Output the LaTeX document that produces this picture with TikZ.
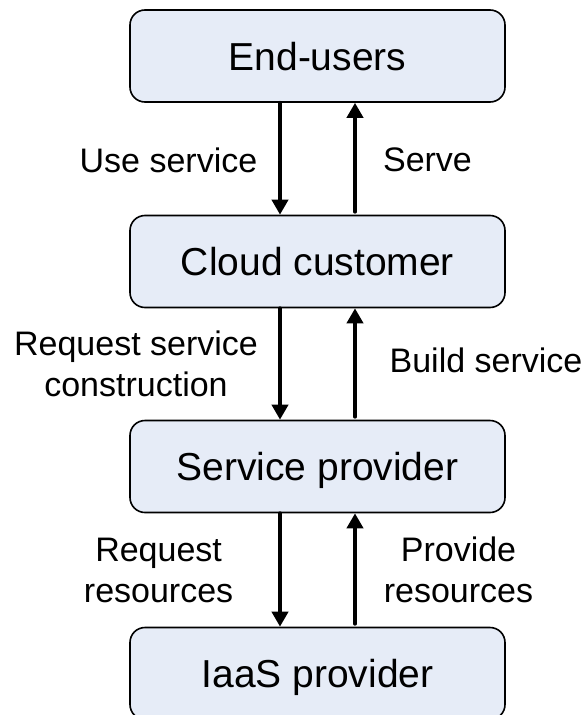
\documentclass[tikz,border=0pt]{standalone}
\usepackage{fontspec}
\setmainfont{Liberation Sans}
\usepackage{tikz}
\usetikzlibrary{arrows.meta}

\definecolor{cajaazul}{RGB}{230,236,247}

\begin{document}
\begin{tikzpicture}[x=1pt,y=-1pt,
		caja/.style={draw=black,line width=1.6pt,fill=cajaazul,rounded corners=15pt,
			minimum width=375pt,minimum height=92pt,text height=28pt,text depth=0pt,
			font=\fontsize{39}{46}\selectfont},
		etiqueta/.style={align=center,font=\fontsize{34}{41}\selectfont},
		flecha/.style={line width=4pt,line cap=round,-{Triangle[width=16pt,length=15pt]}}]
		
		\clip (0,0) rectangle (587,715);
		
		% Cajas
		\node[caja] (endusers) at (317.5,56) {End-users};
		\node[caja] (customer) at (317.5,261.5) {Cloud customer};
		\node[caja] (provider) at (317.5,466.5) {Service provider};
		\node[caja] (iaas) at (317.5,673.5) {IaaS provider};
		
		% Flechas hacia abajo y hacia arriba
		\draw[flecha] ([xshift=-37.5pt]endusers.south) -- ([xshift=-37.5pt]customer.north);
		\draw[flecha] ([xshift=37.5pt,yshift=3pt]customer.north) -- ([xshift=37.5pt]endusers.south);
		\draw[flecha] ([xshift=-37.5pt]customer.south) -- ([xshift=-37.5pt]provider.north);
		\draw[flecha] ([xshift=37.5pt,yshift=3pt]provider.north) -- ([xshift=37.5pt]customer.south);
		\draw[flecha] ([xshift=-37.5pt]provider.south) -- ([xshift=-37.5pt]iaas.north);
		\draw[flecha] ([xshift=37.5pt,yshift=3pt]iaas.north) -- ([xshift=37.5pt]provider.south);
		
		% Etiquetas
		\node[etiqueta] (useservice) at (168.5,160) {Use service};
		\node[etiqueta] (serve) at (427.5,160) {Serve};
		\node[etiqueta] (requestservice) at (136,364) {Request service\\construction};
		\node[etiqueta] (buildservice) at (486,360) {Build service};
		\node[etiqueta] (requestres) at (158.6,570) {Request\\resources};
		\node[etiqueta] (provideres) at (458.5,570) {Provide\\resources};
	\end{tikzpicture}
\end{document}
